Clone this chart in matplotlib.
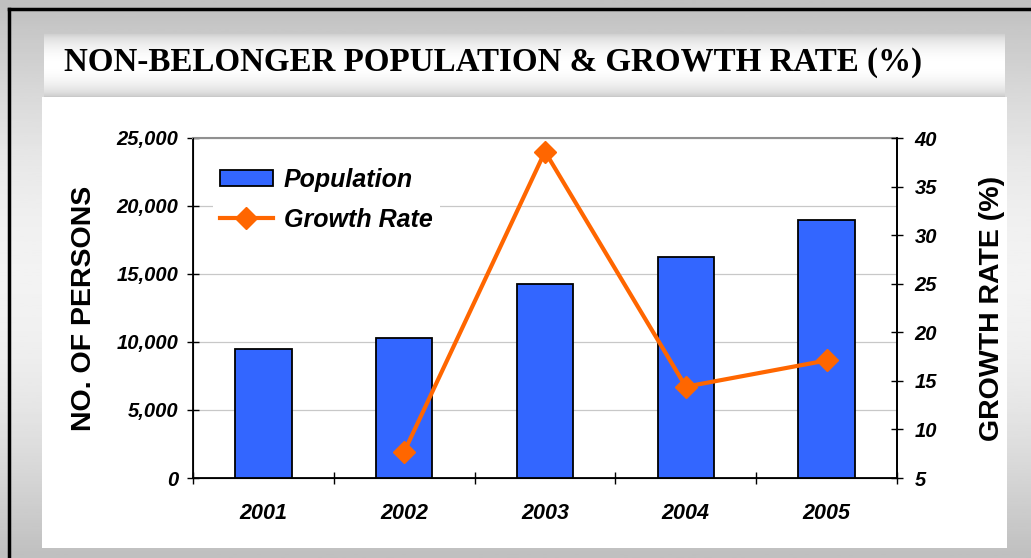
import numpy as np
import matplotlib
matplotlib.use('Agg')
import matplotlib.pyplot as plt
from matplotlib.patches import Patch, Rectangle
from matplotlib.lines import Line2D

years = ['2001', '2002', '2003', '2004', '2005']
population = [9500, 10300, 14300, 16250, 19000]
growth_years = [1, 2, 3, 4]
growth_rate = [7.7, 38.6, 14.4, 17.1]

W, H = 1031, 558
fig = plt.figure(figsize=(W / 100, H / 100), dpi=100)
plt.rcParams['font.family'] = ['Liberation Sans', 'DejaVu Sans']


def px(x0, y0, x1, y1):
    # pixel box -> figure fraction rect
    return [x0 / W, 1 - y1 / H, (x1 - x0) / W, (y1 - y0) / H]


# background gradient
bg = fig.add_axes([0, 0, 1, 1], zorder=-10)
t = np.linspace(0, 1, 200)
g = 0.75 + 0.2 * np.sin(np.pi * t)
bg.imshow(g[:, None], cmap='gray', vmin=0, vmax=1, aspect='auto', extent=[0, W, H, 0])
bg.set_xlim(0, W)
bg.set_ylim(H, 0)
bg.axis('off')

# title band
tb = fig.add_axes(px(44, 33, 1005, 97), zorder=-9)
t2 = np.linspace(0, 1, 100)
g2 = 0.78 + 0.22 * np.sin(np.pi * t2) ** 0.6
tb.imshow(g2[:, None], cmap='gray', vmin=0, vmax=1, aspect='auto')
tb.axis('off')

# white panel + border
bg.add_patch(Rectangle((42, 97), 965, 451, facecolor='white', edgecolor='none'))
bg.plot([9, W], [9, 9], color='black', lw=2.5)
bg.plot([9, 9], [9, H], color='black', lw=2.5)

fig.text(64 / W, 1 - 63 / H, 'NON-BELONGER POPULATION & GROWTH RATE (%)',
         family='Liberation Serif', fontweight='bold', fontsize=23.8,
         va='center', ha='left')

ax = fig.add_axes(px(193, 138, 897, 478))
x = np.arange(len(years))
ax.bar(x, population, width=0.4, color='#3366FF', edgecolor='black', linewidth=1.3, zorder=3)
ax.set_xlim(-0.5, 4.5)
ax.set_ylim(0, 25000)
ax.set_yticks(np.arange(0, 25001, 5000))
ax.set_yticklabels(['0', '5,000', '10,000', '15,000', '20,000', '25,000'])
ax.set_xticks(x)
ax.set_xticklabels(years)
ax.set_xticks(np.arange(-0.5, 5, 1), minor=True)
ax.tick_params(axis='x', which='major', length=0, pad=18)
ax.tick_params(axis='x', which='minor', direction='inout', length=9, width=1)
ax.tick_params(axis='y', direction='inout', length=9, width=1, pad=6)
ax.yaxis.grid(True, color='#c8c8c8', linewidth=0.9, zorder=0)
ax.set_axisbelow(True)
for lab in ax.get_yticklabels():
    lab.set_fontsize(14.5)
for lab in ax.get_xticklabels():
    lab.set_fontsize(15.5)
for lab in ax.get_xticklabels() + ax.get_yticklabels():
    lab.set_fontweight('bold')
    lab.set_fontstyle('italic')
ax.spines['top'].set_color('#909090')
ax.spines['top'].set_linewidth(1.5)
for s in ['left', 'bottom', 'right']:
    ax.spines[s].set_linewidth(1.3)
ax.set_ylabel('NO. OF PERSONS', fontsize=20.5, fontweight='bold', labelpad=14)

ax2 = ax.twinx()
ax2.plot(growth_years, growth_rate, color='#FF6600', lw=3, marker='D', ms=11, zorder=4)
ax2.set_ylim(5, 40)
ax2.set_yticks(np.arange(5, 41, 5))
ax2.tick_params(axis='y', direction='inout', length=9, width=1, pad=8)
for lab in ax2.get_yticklabels():
    lab.set_fontweight('bold')
    lab.set_fontstyle('italic')
    lab.set_fontsize(14.5)
ax2.spines['right'].set_linewidth(1.3)
ax2.spines['top'].set_visible(False)
ax2.set_ylabel('GROWTH RATE (%)', fontsize=20.5, fontweight='bold', labelpad=30)

handles = [Patch(facecolor='#3366FF', edgecolor='black', linewidth=1.3),
           Line2D([], [], color='#FF6600', lw=3, marker='D', ms=11)]
leg = ax2.legend(handles, ['Population', 'Growth Rate'], loc='upper left',
                 bbox_to_anchor=(0.01, 0.97), frameon=True, fancybox=False,
                 edgecolor='none', facecolor='white', framealpha=1,
                 prop={'weight': 'bold', 'style': 'italic', 'size': 18},
                 handlelength=2.1, handleheight=0.6, labelspacing=0.62,
                 handletextpad=0.45, borderpad=0.3)

fig.savefig('out.png', dpi=100)
